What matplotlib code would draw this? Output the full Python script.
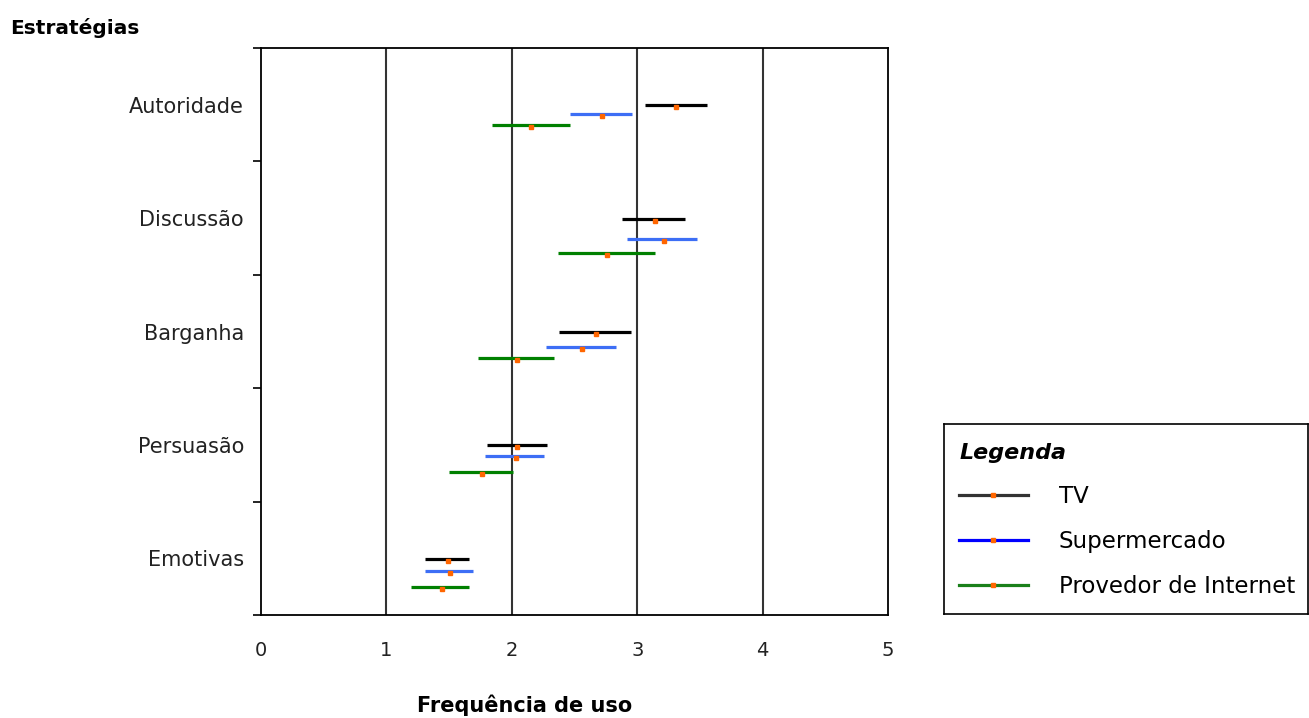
import matplotlib.pyplot as plt
from matplotlib.lines import Line2D
import matplotlib.transforms as mtransforms

# categorias (de cima para baixo)
estrategias = ['Autoridade', 'Discussão', 'Barganha', 'Persuasão', 'Emotivas']
series = ['TV', 'Supermercado', 'Provedor de Internet']

# intervalos: limite inferior, media, limite superior
tv_lo = [3.06, 2.88, 2.38, 1.80, 1.31]
tv_mean = [3.31, 3.14, 2.67, 2.04, 1.49]
tv_hi = [3.56, 3.38, 2.95, 2.28, 1.66]
sm_lo = [2.46, 2.92, 2.27, 1.79, 1.31]
sm_mean = [2.72, 3.21, 2.56, 2.03, 1.51]
sm_hi = [2.96, 3.48, 2.83, 2.26, 1.69]
pi_lo = [1.84, 2.37, 1.73, 1.50, 1.20]
pi_mean = [2.15, 2.76, 2.04, 1.76, 1.44]
pi_hi = [2.46, 3.14, 2.34, 2.01, 1.66]
# deslocamento vertical de cada linha dentro da faixa da categoria
tv_off = [0.0, -0.01, 0.0, 0.0, -0.01]
sm_off = [-0.08, -0.18, -0.14, -0.10, -0.11]
pi_off = [-0.18, -0.31, -0.23, -0.24, -0.25]

cores = ['#000000', '#3d6ef5', '#008000']
cores_leg = ['#333333', '#0000ff', '#1a801a']
laranja = '#ff6600'

fig = plt.figure(figsize=(13.09, 7.18), dpi=100)
ax = fig.add_axes([0.1994, 0.1435, 0.479, 0.7896])

n = len(estrategias)
centros = [n - 0.5 - i for i in range(n)]
dados = [(tv_lo, tv_mean, tv_hi, tv_off),
         (sm_lo, sm_mean, sm_hi, sm_off),
         (pi_lo, pi_mean, pi_hi, pi_off)]

dot_trans = mtransforms.offset_copy(ax.transData, fig=fig, y=-2, units='dots')
for (lo, mean, hi, off), cor in zip(dados, cores):
    ys = [c + o for c, o in zip(centros, off)]
    ax.hlines(ys, lo, hi, colors=cor, linewidth=2.3, zorder=3)
    ax.plot(mean, ys, ls='none', marker='s', ms=2.5, color=laranja,
            transform=dot_trans, zorder=4)

ax.set_xlim(0, 5)
ax.set_ylim(0, n)
for x in range(1, 5):
    ax.axvline(x, color='#333333', linewidth=1.5, zorder=1)

ax.set_xticks(range(6))
ax.tick_params(axis='x', length=0, pad=18.5, labelsize=14, labelcolor='#222222')
ax.set_yticks(range(n + 1))
ax.set_yticklabels([])
ax.tick_params(axis='y', which='major', length=5.5, width=1.2)
ax.set_yticks(centros, minor=True)
ax.set_yticklabels(estrategias, minor=True)
ax.tick_params(axis='y', which='minor', length=0, pad=12.3, labelsize=15, labelcolor='#222222')
for s in ax.spines.values():
    s.set_linewidth(1.3)

fig.text(10 / 1309, 1 - 28 / 718, 'Estratégias', fontsize=14.5, fontweight='bold',
         ha='left', va='center')
fig.text(525 / 1309, 1 - 705 / 718, 'Frequência de uso', fontsize=15, fontweight='bold',
         ha='center', va='center')

# caixa da legenda
lax = fig.add_axes([944 / 1309, 1 - 614 / 718, 364 / 1309, 190 / 718])
lax.set_xticks([])
lax.set_yticks([])
for s in lax.spines.values():
    s.set_linewidth(1.2)
handles = [Line2D([0], [0], color=c, lw=2.3, marker='s', ms=2.5,
                  markerfacecolor=laranja, markeredgecolor=laranja)
           for c in cores_leg]
leg = lax.legend(handles, series, loc='upper left', frameon=False, fontsize=16.5,
                 title='Legenda', alignment='left', handlelength=3.0,
                 handletextpad=1.35, labelspacing=0.95, borderaxespad=0.45,
                 bbox_to_anchor=(-0.012, 1.0))
leg.get_title().set_fontsize(16)
leg.get_title().set_fontweight('bold')
leg.get_title().set_fontstyle('italic')

fig.savefig('out.png', dpi=100)
